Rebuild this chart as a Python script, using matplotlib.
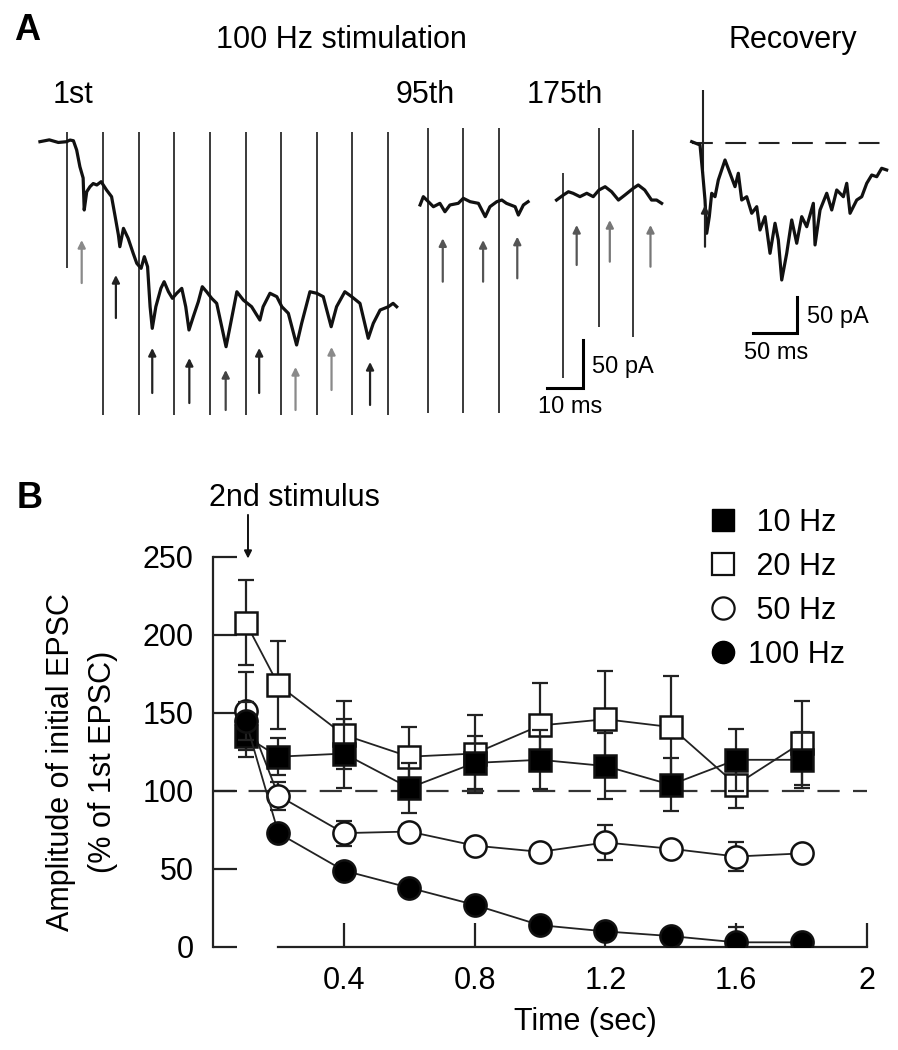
import matplotlib
matplotlib.use('Agg')
import numpy as np
import matplotlib.pyplot as plt
from matplotlib.lines import Line2D

plt.rcParams['font.family'] = ['Liberation Sans', 'DejaVu Sans']

# ---------------- panel B data ----------------
time_s = [0.1, 0.2, 0.4, 0.6, 0.8, 1.0, 1.2, 1.4, 1.6, 1.8]
amp_10hz = [135, 122, 124, 102, 118, 120, 116, 104, 120, 120]
err_10hz = [13, 12, 22, 16, 17, 19, 21, 17, 20, 18]
amp_20hz = [208, 168, 136, 122, 124, 142, 146, 141, 104, 131]
err_20hz = [27, 28, 22, 19, 25, 27, 31, 33, 15, 27]
amp_50hz = [151, 97, 73, 74, 65, 61, 67, 63, 58, 60]
err_50hz = [25, 9, 8, 5, 4, 4, 11, 4, 9, 4]
amp_100hz = [145, 73, 49, 38, 27, 14, 10, 7, 3, 3]
err_100hz = [12, 5, 5, 3, 3, 2, 3, 2, 10, 2]
yticks_b = [0, 50, 100, 150, 200, 250]
xticks_b = [0.4, 0.8, 1.2, 1.6, 2.0]
xticklabels_b = ['0.4', '0.8', '1.2', '1.6', '2']

# ---------------- panel A data (ms, pA) ----------------
# 1st stimulus train
stim_1st = [0, 9.9, 19.8, 29.7, 39.6, 49.6, 59.5, 69.4, 79.1, 89.2]
art_top_1st = [9.3] * 10
art_bot_1st = [-131.4] + [-283.6] * 9
t_1st = [-7.6, -5.0, -2.5, -0.2, 0.75, 1.7, 2.6, 3.5, 4.4, 4.7, 5.4, 6.3, 7.2, 8.2, 9.4,
         10.9, 12.3, 13.3, 14.2, 14.6, 15.6, 16.9, 18.3, 19.3, 20.5, 21.4, 22.3, 23.0,
         23.6, 24.6, 26.0, 26.9, 28.1, 29.2, 30.4, 31.8, 32.9, 33.8, 35.0, 36.4, 37.5,
         38.7, 40.1, 41.5, 44.1, 45.2, 47.1, 48.9, 51.2, 53.5, 54.4, 56.3, 58.2, 59.6,
         61.4, 63.7, 65.1, 67.4, 69.3, 71.1, 73.3, 74.8, 77.1, 79.0, 81.3, 83.6, 85.0,
         86.9, 89.2, 90.5, 91.5]
i_1st = [-0.7, 1.2, -1.5, -0.7, 1.0, 0.3, -9.3, -26.6, -38.3, -71.4, -52.5, -47.3, -44.0,
         -45.5, -42.1, -50.7, -57.6, -78.3, -97.3, -109.4, -90.4, -100.7, -116.2, -126.6,
         -131.8, -119.7, -130.1, -171.5, -193.9, -171.5, -152.5, -145.6, -156.0, -162.8,
         -157.6, -152.5, -171.5, -195.6, -181.8, -166.3, -150.8, -156.0, -162.8, -168.0,
         -212.9, -192.2, -156.0, -164.6, -171.5, -185.3, -171.5, -157.6, -161.1, -171.5,
         -178.3, -211.1, -188.7, -156.0, -157.6, -161.1, -192.2, -171.5, -156.0, -161.1,
         -168.0, -204.2, -188.7, -174.9, -171.5, -168.0, -171.5]
arrow_t_1st = [4.0, 13.5, 23.6, 33.9, 44.0, 53.3, 63.4, 73.4, 84.1]
arrow_tail_1st = [-147.0, -183.2, -260.8, -271.2, -278.4, -260.8, -278.4, -257.7, -273.2]
arrow_head_1st = [-102.5, -138.7, -214.2, -224.6, -237.0, -214.2, -233.9, -213.2, -228.7]
arrow_col_1st = ['#8a8a8a', '#222222', '#222222', '#222222', '#444444', '#222222',
                 '#8a8a8a', '#8a8a8a', '#222222']

# 95th stimulus
stim_95 = [0, 9.9, 19.9]
art_top_95 = [13.5, 13.5, 13.5]
art_bot_95 = [-281.5, -281.5, -281.5]
t_95 = [-2.1, -1.2, 0.2, 1.6, 3.4, 4.8, 6.2, 8.5, 9.9, 11.8, 14.1, 16.0, 17.3, 19.2,
        20.6, 21.9, 24.3, 25.2, 26.6, 27.9]
i_95 = [-66.2, -57.6, -62.8, -68.0, -64.5, -73.2, -66.2, -64.5, -59.3, -62.8, -64.5,
        -78.3, -68.0, -62.8, -61.1, -64.5, -68.0, -76.6, -66.2, -62.8]
arrow_t_95 = [4.2, 15.4, 24.9]
arrow_tail_95 = [-145.6, -145.6, -142.1]
arrow_head_95 = [-100.7, -102.5, -99.0]

# 175th stimulus
stim_175 = [0, 10.1, 19.6]
art_top_175 = [-33.4, 13.1, 11.4]
art_bot_175 = [-245.6, -192.2, -202.5]
t_175 = [-1.7, 0.2, 1.6, 2.9, 4.8, 6.7, 8.5, 10.1, 11.8, 13.6, 15.5, 17.3, 19.6, 21.0,
         22.8, 24.7, 26.1, 27.5]
i_175 = [-61.1, -55.9, -52.5, -54.1, -57.6, -54.1, -57.6, -50.7, -47.3, -52.5, -61.1,
         -55.9, -49.0, -45.5, -50.7, -61.1, -61.1, -64.5]
arrow_t_175 = [3.9, 13.1, 24.4]
arrow_tail_175 = [-128.3, -124.9, -130.1]
arrow_head_175 = [-86.9, -81.8, -86.9]

# recovery EPSC
t_rec = [-12.3, -3.0, 0, 2.6, 4.5, 7.4, 10.1, 13.8, 17.5, 25.0, 30.6, 36.2, 39.9, 43.7,
         49.3, 54.9, 60.5, 64.2, 69.8, 75.4, 81.0, 84.7, 88.5, 94.1, 99.7, 105.3, 110.9,
         116.5, 123.9, 125.8, 131.4, 138.9, 144.5, 150.1, 157.5, 161.3, 165.0, 172.5,
         178.1, 183.7, 189.3, 194.9, 200.4, 206.0]
i_rec = [1.4, -3.1, -41.7, -78.2, -123.6, -100.9, -69.0, -73.7, -50.9, -23.6, -41.7,
         -60.0, -41.7, -78.2, -73.7, -96.3, -87.3, -119.1, -100.9, -150.9, -109.9, -132.7,
         -187.3, -150.9, -105.4, -137.2, -100.9, -114.6, -82.7, -139.5, -91.8, -69.0,
         -91.8, -64.5, -73.7, -55.4, -96.3, -78.2, -73.7, -55.4, -44.1, -46.4, -34.9, -37.2]

FS = 22
W, H = 898, 1050
fig = plt.figure(figsize=(W / 100, H / 100), dpi=100)


def fx(px):
    return px / W


def fy(py):
    return 1 - py / H


# ================= Panel A =================
axA = fig.add_axes([fx(30), fy(430), fx(650), 320 / H])
axA.set_xlim(-10.36, 170.2)
axA.set_ylim(-299.1, 32.1)
axA.axis('off')

segments = [
    (0.0, stim_1st, art_top_1st, art_bot_1st, t_1st, i_1st,
     arrow_t_1st, arrow_tail_1st, arrow_head_1st, arrow_col_1st),
    (100.1, stim_95, art_top_95, art_bot_95, t_95, i_95,
     arrow_t_95, arrow_tail_95, arrow_head_95, ['#555555'] * 3),
    (137.6, stim_175, art_top_175, art_bot_175, t_175, i_175,
     arrow_t_175, arrow_tail_175, arrow_head_175, ['#555555', '#777777', '#777777']),
]
for off, st, atop, abot, tt, ii, at, atail, ahead, acol in segments:
    axA.vlines(off + np.array(st), abot, atop, color='#3a3a3a', lw=1.4)
    axA.plot(off + np.array(tt), ii, color='#111111', lw=2.3)
    for t, a0, a1, c in zip(at, atail, ahead, acol):
        axA.annotate('', xy=(off + t, a1), xytext=(off + t, a0),
                     arrowprops=dict(arrowstyle='-|>', color=c, lw=1.6,
                                     mutation_scale=11, shrinkA=0, shrinkB=0))

# scale bar (10 ms, 50 pA)
axA.plot([133.2, 143.2, 143.2], [-256.0, -256.0, -206.0], color='black', lw=2.2,
         solid_joinstyle='miter')

axR = fig.add_axes([fx(680), fy(400), fx(218), 340 / H])
axR.set_xlim(-25.4, 218.7)
axR.set_ylim(-351.0, 112.8)
axR.axis('off')
axR.plot([-12.3, 206.0], [0, 0], color='#222222', lw=1.5, dashes=(10, 6))
axR.vlines([0], -41.7, 71.9, color='#222222', lw=1.5)
axR.plot(t_rec, i_rec, color='#111111', lw=2.3)
axR.annotate('', xy=(2.6, -85.0), xytext=(2.6, -141.9),
             arrowprops=dict(arrowstyle='-|>', color='#222222', lw=1.6,
                             mutation_scale=11, shrinkA=0, shrinkB=0))
axR.plot([56.0, 106.0, 106.0], [-260.0, -260.0, -210.0], color='black', lw=2.2,
         solid_joinstyle='miter')

fig.text(fx(27), fy(30), 'A', fontsize=26, fontweight='bold', ha='center', va='center')
fig.text(fx(341), fy(40), '100 Hz stimulation', fontsize=FS, ha='center', va='center')
fig.text(fx(793), fy(40), 'Recovery', fontsize=FS, ha='center', va='center')
fig.text(fx(73), fy(95), '1st', fontsize=FS, ha='center', va='center')
fig.text(fx(425), fy(95), '95th', fontsize=FS, ha='center', va='center')
fig.text(fx(565), fy(95), '175th', fontsize=FS, ha='center', va='center')
fig.text(fx(592), fy(367), '50 pA', fontsize=17, ha='left', va='center')
fig.text(fx(570), fy(407), '10 ms', fontsize=17, ha='center', va='center')
fig.text(fx(807), fy(317), '50 pA', fontsize=17, ha='left', va='center')
fig.text(fx(776), fy(353), '50 ms', fontsize=17, ha='center', va='center')

# ================= Panel B =================
ax = fig.add_axes([fx(213), fy(947), fx(654), 390 / H])
ax.set_xlim(0, 2)
ax.set_ylim(0, 250)

ax.axhline(100, color='#333333', lw=1.6, dashes=(10, 6), zorder=1)

series = [
    (amp_20hz, err_20hz, 's', 'white', 2),
    (amp_50hz, err_50hz, 'o', 'white', 3),
    (amp_10hz, err_10hz, 's', 'black', 4),
    (amp_100hz, err_100hz, 'o', 'black', 5),
]
for amp, err, mk, fc, z in series:
    ax.errorbar(time_s, amp, yerr=err, fmt='none', ecolor='#222222', elinewidth=1.6,
                capsize=6, capthick=1.6, zorder=z)
    ax.plot(time_s, amp, color='#222222', lw=1.3, marker=mk, ms=16, mfc=fc,
            mec='#111111', mew=1.8, zorder=z + 0.5)

for side in ['top', 'right']:
    ax.spines[side].set_visible(False)
ax.spines['left'].set_bounds(0, 250)
ax.spines['bottom'].set_bounds(0.2, 2.0)
for side in ['left', 'bottom']:
    ax.spines[side].set_linewidth(1.6)
    ax.spines[side].set_color('#222222')
ax.set_yticks(yticks_b)
ax.set_xticks(xticks_b)
ax.set_xticklabels(xticklabels_b)
ax.tick_params(direction='in', length=17, width=1.6, color='#222222',
               labelsize=FS, pad=14)

ax.annotate('', xy=(0.107, 249), xytext=(0.107, 277), annotation_clip=False,
            arrowprops=dict(arrowstyle='-|>', color='#111111', lw=1.4,
                            mutation_scale=11, shrinkA=0, shrinkB=0))

fig.text(fx(30), fy(498), 'B', fontsize=26, fontweight='bold', ha='center', va='center')
fig.text(fx(294), fy(498), '2nd stimulus', fontsize=FS, ha='center', va='center')
fig.text(fx(61), fy(762), 'Amplitude of initial EPSC', fontsize=FS, rotation=90,
         ha='center', va='center')
fig.text(fx(103), fy(762), '(% of 1st EPSC)', fontsize=FS, rotation=90,
         ha='center', va='center')
fig.text(fx(585), fy(1022), 'Time (sec)', fontsize=FS, ha='center', va='center')

handles = [
    Line2D([], [], ls='none', marker='s', ms=16, mfc='black', mec='black'),
    Line2D([], [], ls='none', marker='s', ms=16, mfc='white', mec='#111111', mew=1.6),
    Line2D([], [], ls='none', marker='o', ms=16, mfc='white', mec='#111111', mew=1.6),
    Line2D([], [], ls='none', marker='o', ms=16, mfc='black', mec='black'),
]
labels = [' 10 Hz', ' 20 Hz', ' 50 Hz', '100 Hz']
fig.legend(handles, labels, loc='upper left', bbox_to_anchor=(fx(708), fy(508)),
           frameon=False, fontsize=FS, handlelength=1.0, handletextpad=0.3,
           labelspacing=0.46, borderpad=0, borderaxespad=0)

fig.savefig('out.png', dpi=100)
